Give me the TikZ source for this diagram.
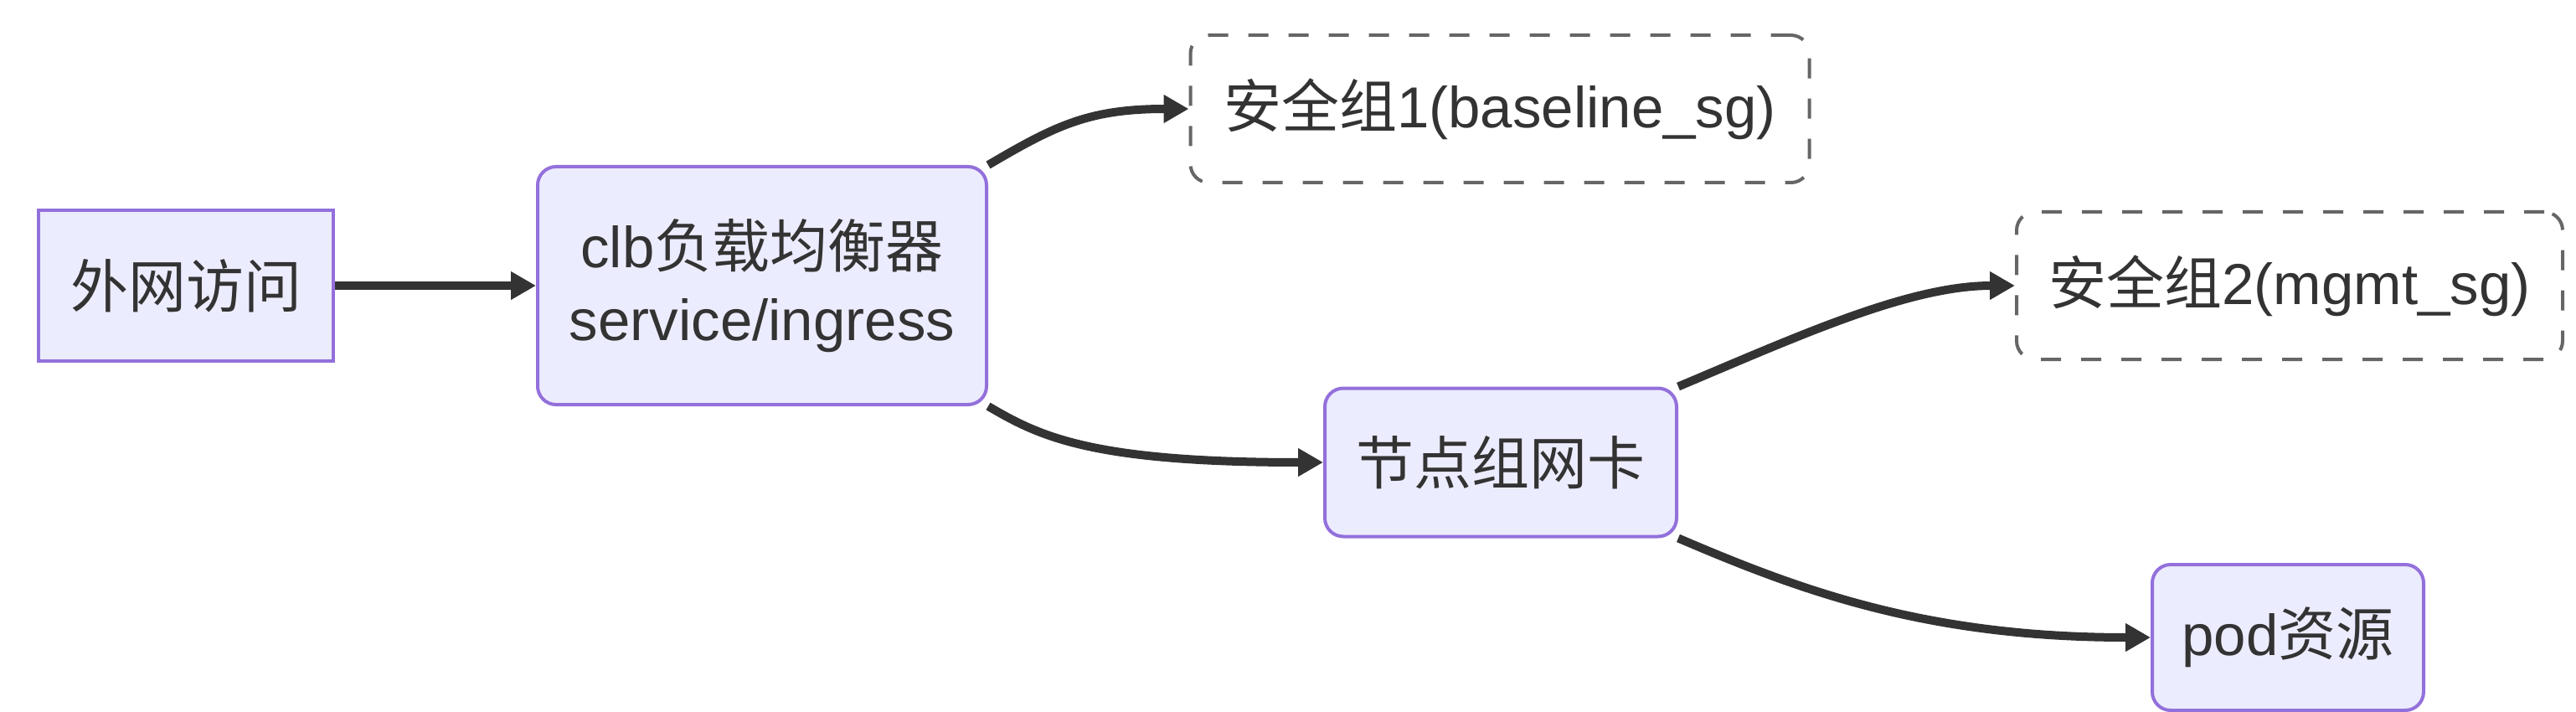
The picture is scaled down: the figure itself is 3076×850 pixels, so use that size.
\documentclass[tikz,border=0pt]{standalone}
\usepackage{fontspec}
\setmainfont{Liberation Sans}
\newfontfamily\cjk{Noto Sans CJK SC}
\usetikzlibrary{arrows.meta}
\definecolor{nodeFill}{HTML}{ECECFF}
\definecolor{nodeStroke}{HTML}{9370DB}
\definecolor{textC}{HTML}{333333}
\definecolor{edgeC}{HTML}{333333}
\definecolor{dashC}{HTML}{666666}
\tikzset{
  box/.style={draw=nodeStroke, fill=nodeFill, line width=4pt, text=textC, inner sep=0pt,
    align=center, font=\fontsize{69}{87}\selectfont},
  rbox/.style={box, rounded corners=22pt},
  dbox/.style={draw=dashC, fill=white, line width=4pt, dash pattern=on 24pt off 24pt,
    rounded corners=22pt, text=textC, inner sep=0pt, align=center, font=\fontsize{69}{87}\selectfont},
  edge/.style={draw=edgeC, line width=10pt, -{Triangle[length=30pt,width=32pt]}}
}
\begin{document}
\begin{tikzpicture}[x=1pt,y=-1pt]
\useasboundingbox (0,0) rectangle (3076,850);
\node[box, minimum width=352pt, minimum height=179pt] (ext) at (222,341) {{\cjk 外网访问}};
\node[rbox, minimum width=536pt, minimum height=284pt] (clb) at (910,341) {clb{\cjk 负载均衡器}\\service/ingress};
\node[dbox, minimum width=739pt, minimum height=176pt] (sg1) at (1791,130) {{\cjk 安全组}1(baseline\_sg)};
\node[rbox, minimum width=420pt, minimum height=177pt] (nic) at (1792,552) {{\cjk 节点组网卡}};
\node[dbox, minimum width=652pt, minimum height=176pt] (sg2) at (2734,341) {{\cjk 安全组}2(mgmt\_sg)};
\node[rbox, minimum width=324pt, minimum height=174pt] (pod) at (2732,761) {pod{\cjk 资源}};
\draw[edge] (ext.east) -- (ext.east -| clb.west);
\draw[edge] (clb.north east) .. controls (1260,150) and (1300,130) .. (sg1.west);
\draw[edge] (clb.south east) .. controls (1240,520) and (1300,552) .. (nic.west);
\draw[edge] (nic.north east) .. controls (2150,400) and (2280,341) .. (sg2.west);
\draw[edge] (nic.south east) .. controls (2150,705) and (2300,761) .. (pod.west);
\end{tikzpicture}
\end{document}
